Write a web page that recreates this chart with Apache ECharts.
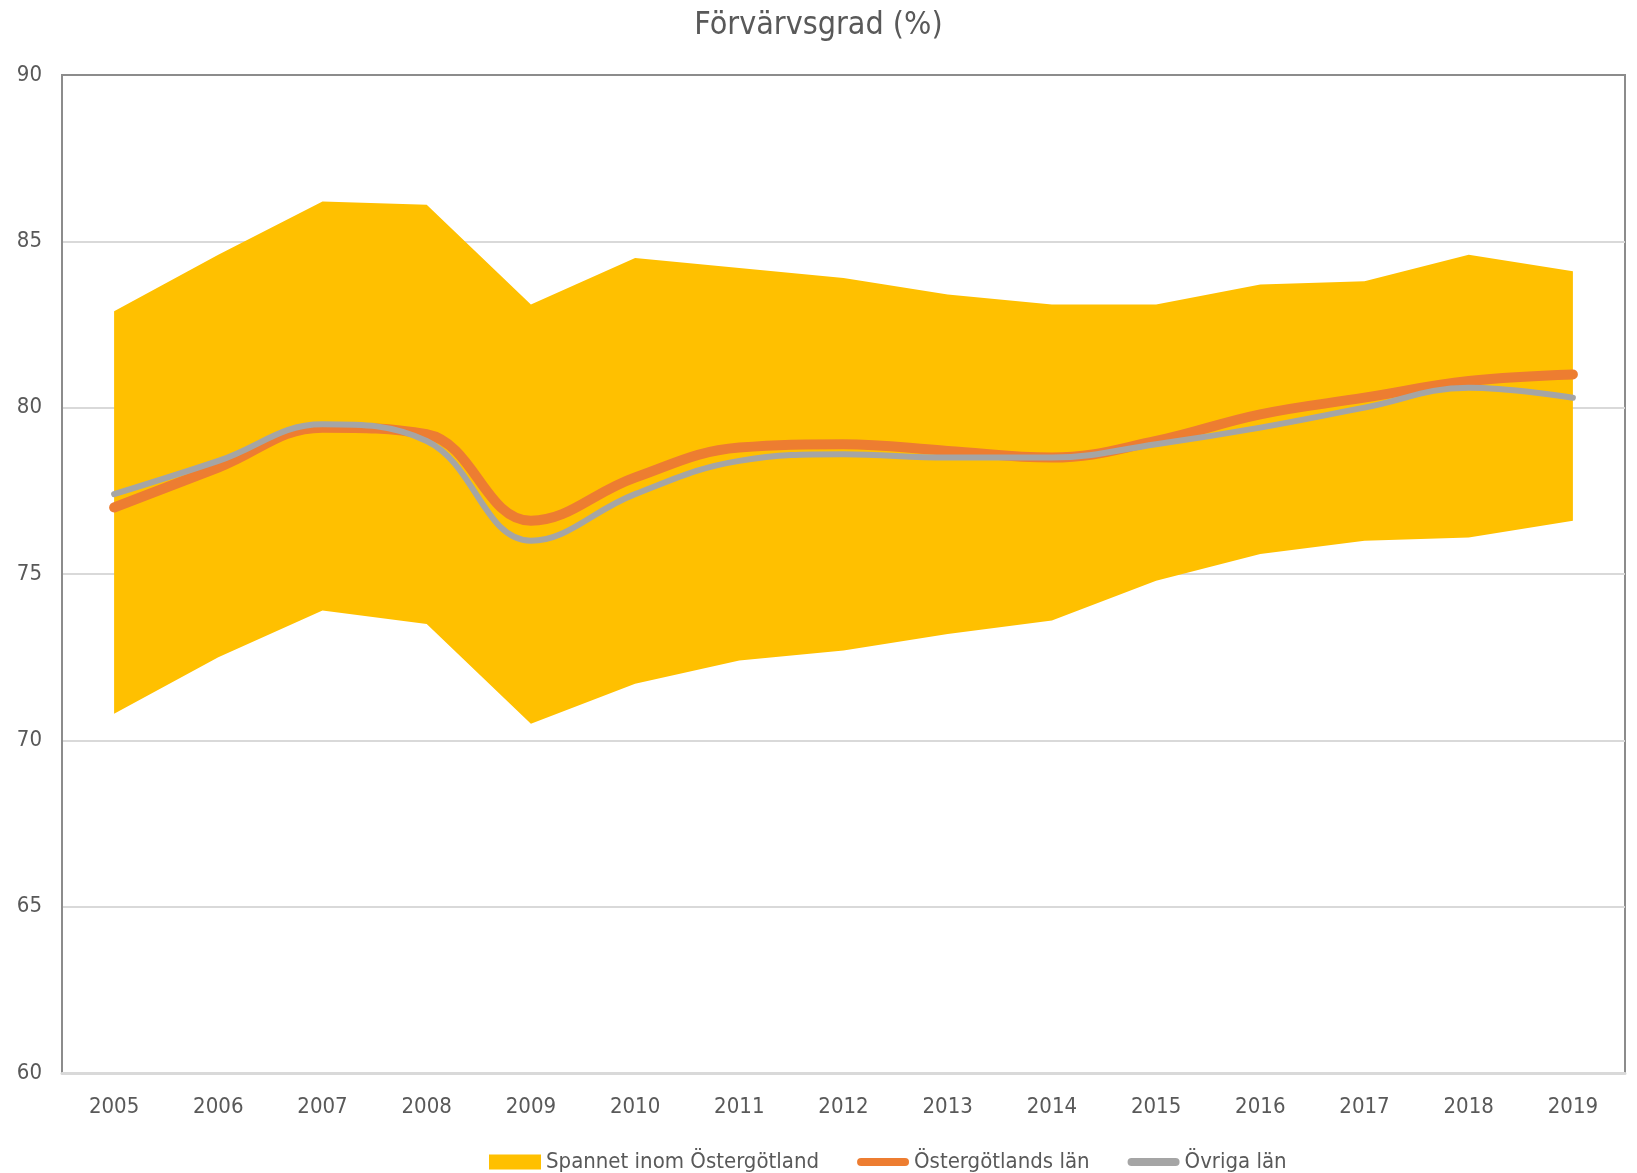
<!DOCTYPE html>
<html>
<head>
<meta charset="utf-8">
<script src="https://cdn.jsdelivr.net/npm/echarts@6/dist/echarts.min.js"></script>
<style>
  html, body { margin: 0; padding: 0; background: #fff; }
  #chart { width: 1637px; height: 1173px; }
</style>
</head>
<body>
<div id="chart"></div>
<script>
const years = ['2005', '2006', '2007', '2008', '2009', '2010', '2011', '2012', '2013', '2014', '2015', '2016', '2017', '2018', '2019']
// spannet inom Östergötland (min / max)
const bandLow = [70.8, 72.5, 73.9, 73.5, 70.5, 71.7, 72.4, 72.7, 73.2, 73.6, 74.8, 75.6, 76.0, 76.1, 76.6]
const bandHigh = [82.9, 84.6, 86.2, 86.1, 83.1, 84.5, 84.2, 83.9, 83.4, 83.1, 83.1, 83.7, 83.8, 84.6, 84.1]
const ostergotland = [77.0, 78.2, 79.4, 79.2, 76.6, 77.9, 78.8, 78.9, 78.7, 78.5, 79.0, 79.8, 80.3, 80.8, 81.0]
const ovriga = [77.4, 78.4, 79.5, 79.0, 76.0, 77.4, 78.4, 78.6, 78.5, 78.5, 78.9, 79.4, 80.0, 80.6, 80.3]

const textColor = '#595959'
const font = 'Liberation Sans Narrow, DejaVu Sans Condensed, sans-serif'
const lineIcon = 'path://M4,0 L48,0 A4,4 0 0 1 48,8 L4,8 A4,4 0 0 1 4,0 Z'

const bandSpan = bandHigh.map((v, i) => +(v - bandLow[i]).toFixed(2))

const chart = echarts.init(document.getElementById('chart'))
chart.setOption({
  animation: false,
  textStyle: { fontFamily: font },
  title: {
    text: 'Förvärvsgrad (%)',
    left: 'center',
    top: 5,
    textStyle: { color: textColor, fontSize: 32, fontWeight: 'normal', fontFamily: font },
  },
  legend: {
    top: 1146,
    left: 484,
    itemWidth: 52,
    itemHeight: 15,
    itemGap: 38,
    textStyle: { color: textColor, fontSize: 22, fontFamily: font },
    data: [
      { name: 'Spannet inom Östergötland', icon: 'rect', itemStyle: { color: '#FFC000' } },
      { name: 'Östergötlands län', icon: lineIcon, itemStyle: { color: '#ED7D31' } },
      { name: 'Övriga län', icon: lineIcon, itemStyle: { color: '#A5A5A5' } },
    ],
  },
  grid: {
    left: 62,
    right: 12,
    top: 75,
    bottom: 100,
    show: true,
    borderColor: '#8c8c8c',
    borderWidth: 2,
  },
  xAxis: {
    type: 'category',
    data: years,
    boundaryGap: true,
    axisLine: { lineStyle: { color: '#d9d9d9', width: 3 } },
    axisTick: { show: false },
    axisLabel: { color: textColor, fontSize: 22, margin: 23 },
  },
  yAxis: {
    type: 'value',
    min: 60,
    max: 90,
    interval: 5,
    axisLine: { show: true, lineStyle: { color: '#8c8c8c', width: 2 } },
    axisTick: { show: false },
    axisLabel: { color: textColor, fontSize: 22, margin: 20 },
    splitLine: { showMaxLine: false, showMinLine: false, lineStyle: { color: '#d9d9d9', width: 2 } },
  },
  series: [
    {
      name: 'base',
      type: 'line',
      stack: 'band',
      data: bandLow,
      symbol: 'none',
      lineStyle: { width: 0, opacity: 0 },
      silent: true,
    },
    {
      name: 'Spannet inom Östergötland',
      type: 'line',
      stack: 'band',
      data: bandSpan,
      symbol: 'none',
      color: '#FFC000',
      lineStyle: { width: 0, opacity: 0 },
      areaStyle: { color: '#FFC000', opacity: 1 },
    },
    {
      name: 'Östergötlands län',
      type: 'line',
      data: ostergotland,
      symbol: 'none',
      smooth: 0.4,
      color: '#ED7D31',
      lineStyle: { width: 10, color: '#ED7D31', cap: 'round', join: 'round' },
    },
    {
      name: 'Övriga län',
      type: 'line',
      data: ovriga,
      symbol: 'none',
      smooth: 0.4,
      color: '#A5A5A5',
      lineStyle: { width: 6, color: '#A5A5A5', cap: 'round', join: 'round' },
    },
  ],
})
</script>
</body>
</html>
